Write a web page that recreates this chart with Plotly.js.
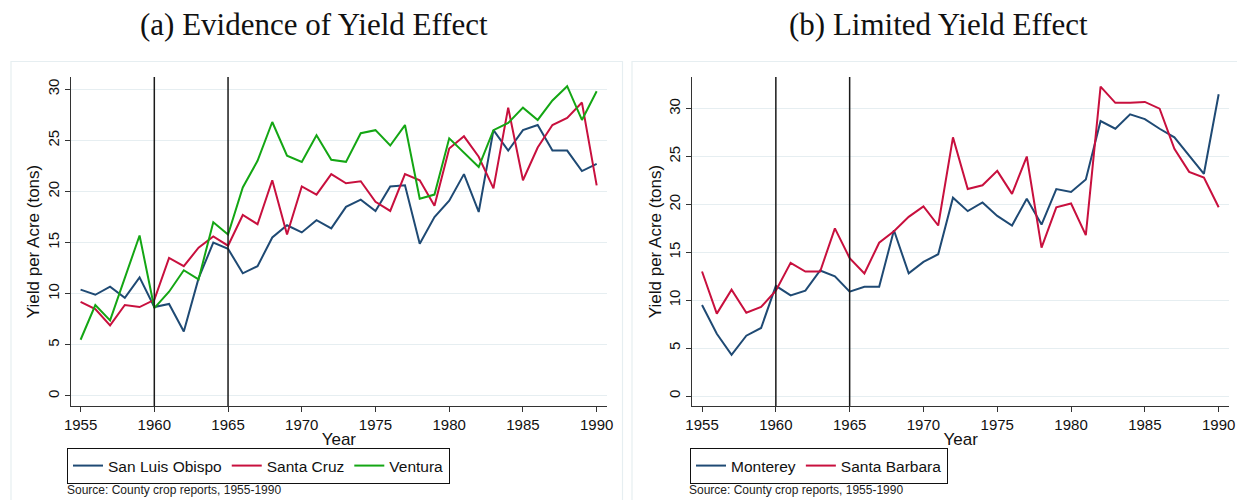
<!DOCTYPE html>
<html>
<head>
<meta charset="utf-8">
<script src="https://cdn.plot.ly/plotly-3.0.1.min.js"></script>
<style>
  html, body { margin: 0; padding: 0; background: #ffffff; }
  #chart { width: 1237px; height: 500px; }
</style>
</head>
<body>
<div id="chart"></div>
<script>
// ---- Data ----
const years = [1955, 1956, 1957, 1958, 1959, 1960, 1961, 1962, 1963, 1964,
               1965, 1966, 1967, 1968, 1969, 1970, 1971, 1972, 1973, 1974,
               1975, 1976, 1977, 1978, 1979, 1980, 1981, 1982, 1983, 1984,
               1985, 1986, 1987, 1988, 1989, 1990];

const sanLuisObispo = [10.4, 9.9, 10.7, 9.6, 11.6, 8.7, 9.0, 6.3, 11.5, 15.0,
                       14.4, 12.0, 12.7, 15.5, 16.7, 16.0, 17.2, 16.4, 18.5, 19.2,
                       18.1, 20.5, 20.6, 14.9, 17.5, 19.1, 21.7, 18.0, 26.0, 24.0,
                       26.0, 26.5, 24.0, 24.0, 22.0, 22.7];
const santaCruz = [9.2, 8.5, 6.9, 8.9, 8.7, 9.4, 13.5, 12.7, 14.5, 15.6,
                   14.7, 17.7, 16.8, 21.1, 15.8, 20.5, 19.7, 21.7, 20.8, 21.0,
                   19.0, 18.1, 21.7, 21.1, 18.6, 24.2, 25.4, 23.4, 20.3, 28.2,
                   21.1, 24.3, 26.5, 27.2, 28.7, 20.6];
const ventura = [5.5, 8.9, 7.4, 11.6, 15.7, 8.6, 10.2, 12.3, 11.4, 17.0,
                 15.8, 20.4, 23.0, 26.8, 23.5, 22.9, 25.5, 23.1, 22.9, 25.7,
                 26.0, 24.5, 26.5, 19.3, 19.7, 25.2, 23.8, 22.4, 26.0, 26.7,
                 28.2, 27.0, 28.9, 30.3, 27.0, 29.8];

const monterey = [9.5, 6.5, 4.3, 6.3, 7.1, 11.5, 10.5, 11.0, 13.1, 12.5,
                  10.9, 11.4, 11.4, 17.3, 12.8, 14.0, 14.8, 20.7, 19.3, 20.2,
                  18.8, 17.8, 20.6, 17.9, 21.6, 21.3, 22.6, 28.7, 27.9, 29.4,
                  28.9, 27.9, 27.0, 25.1, 23.2, 31.5];
const santaBarbara = [13.0, 8.6, 11.1, 8.7, 9.3, 11.0, 13.9, 13.0, 13.0, 17.5,
                      14.4, 12.8, 16.0, 17.2, 18.7, 19.8, 17.8, 27.0, 21.6, 22.0,
                      23.5, 21.1, 25.0, 15.5, 19.7, 20.1, 16.8, 32.3, 30.6, 30.6,
                      30.7, 30.0, 25.8, 23.4, 22.8, 19.7];

const eventYears = [1960, 1965];
const xTicks = [1955, 1960, 1965, 1970, 1975, 1980, 1985, 1990];
const yTicks = [0, 5, 10, 15, 20, 25, 30];
const panelTitles = ['(a) Evidence of Yield Effect', '(b) Limited Yield Effect'];
const sourceNote = 'Source: County crop reports, 1955-1990';
const yTitle = 'Yield per Acre (tons)';
const xTitle = 'Year';

// ---- Styling ----
const BLUE = '#1f4a74';
const RED = '#c8103e';
const GREEN = '#14a614';
const SANS = 'Liberation Sans, Arial, sans-serif';
const SERIF = 'Liberation Serif, Times New Roman, serif';
const W = 1237, H = 500;
const px = v => v / W;
const py = v => 1 - v / H;

function line(x, y, name, color, xa, ya, legend) {
  return {
    type: 'scatter', mode: 'lines', x: x, y: y, name: name,
    xaxis: xa, yaxis: ya, legend: legend,
    line: { color: color, width: 2 },
    hoverinfo: 'x+y+name'
  };
}

const traces = [
  line(years, sanLuisObispo, 'San Luis Obispo', BLUE, 'x', 'y', 'legend'),
  line(years, santaCruz, 'Santa Cruz', RED, 'x', 'y', 'legend'),
  line(years, ventura, 'Ventura', GREEN, 'x', 'y', 'legend'),
  line(years, monterey, 'Monterey', BLUE, 'x2', 'y2', 'legend2'),
  line(years, santaBarbara, 'Santa Barbara', RED, 'x2', 'y2', 'legend2')
];

function xAxis(domain, range, anchor) {
  return {
    domain: domain, range: range, anchor: anchor,
    tickmode: 'array', tickvals: xTicks, ticktext: xTicks.map(String),
    ticks: 'outside', ticklen: 5, tickwidth: 1, tickcolor: '#333',
    showline: true, linecolor: '#333', linewidth: 1.2,
    showgrid: false, zeroline: false,
    tickfont: { family: SANS, size: 15, color: '#111' },
    title: { text: xTitle, standoff: 0, font: { family: SANS, size: 17, color: '#111' } }
  };
}
function yAxis(domain, range, anchor) {
  return {
    domain: domain, range: range, anchor: anchor,
    tickmode: 'array', tickvals: yTicks, ticktext: yTicks.map(String),
    ticks: 'outside', ticklen: 5, tickwidth: 1, tickcolor: '#333',
    tickangle: -90,
    showline: true, linecolor: '#333', linewidth: 1.2,
    showgrid: true, gridcolor: '#e6eef1', gridwidth: 1,
    zeroline: false,
    tickfont: { family: SANS, size: 15, color: '#111' },
    title: { text: yTitle, standoff: 0, font: { family: SANS, size: 17, color: '#111' } }
  };
}

const plotTop = 77, plotBottom = 406;
const yDom = [py(plotBottom), py(plotTop)];

const shapes = [];
// panel frames
shapes.push({ type: 'rect', xref: 'paper', yref: 'paper', x0: px(11), x1: px(622.5), y0: -0.05, y1: py(61.5),
  line: { color: '#e6eef1', width: 1.2 }, fillcolor: 'rgba(0,0,0,0)', layer: 'below' });
shapes.push({ type: 'rect', xref: 'paper', yref: 'paper', x0: px(632), x1: 1.05, y0: -0.05, y1: py(61.5),
  line: { color: '#e6eef1', width: 1.2 }, fillcolor: 'rgba(0,0,0,0)', layer: 'below' });
// event lines
[['x', 'y domain'], ['x2', 'y2 domain']].forEach(([xr, yr]) => {
  eventYears.forEach(yr0 => {
    shapes.push({ type: 'line', xref: xr, yref: yr, x0: yr0, x1: yr0, y0: 0, y1: 1,
      line: { color: '#1a1a1a', width: 1.5 } });
  });
});

const annotations = [
  { text: panelTitles[0], xref: 'paper', yref: 'paper', x: px(314), y: py(24), showarrow: false,
    xanchor: 'center', yanchor: 'middle', font: { family: SERIF, size: 31, color: '#111' } },
  { text: panelTitles[1], xref: 'paper', yref: 'paper', x: px(938), y: py(24), showarrow: false,
    xanchor: 'center', yanchor: 'middle', font: { family: SERIF, size: 31, color: '#111' } },
  { text: sourceNote, xref: 'paper', yref: 'paper', x: px(65), y: py(490), showarrow: false,
    xanchor: 'left', yanchor: 'middle', font: { family: SANS, size: 12, color: '#222' } },
  { text: sourceNote, xref: 'paper', yref: 'paper', x: px(687), y: py(490), showarrow: false,
    xanchor: 'left', yanchor: 'middle', font: { family: SANS, size: 12, color: '#222' } }
];

const legendStyle = {
  orientation: 'h', xanchor: 'left', yanchor: 'top',
  bgcolor: '#ffffff', bordercolor: '#111', borderwidth: 1,
  font: { family: SANS, size: 15.5, color: '#111' },
  itemclick: false, itemdoubleclick: false
};

const layout = {
  width: W, height: H,
  margin: { l: 0, r: 0, t: 0, b: 0 },
  paper_bgcolor: '#ffffff', plot_bgcolor: '#ffffff',
  showlegend: true,
  xaxis: xAxis([px(71), px(606.7)], [1954.35, 1990.68], 'y'),
  yaxis: yAxis(yDom, [-0.98, 31.2], 'x'),
  xaxis2: xAxis([px(692.3), px(1229)], [1954.34, 1990.70], 'y2'),
  yaxis2: yAxis(yDom, [-1.04, 33.3], 'x2'),
  legend: Object.assign({}, legendStyle, { x: px(67), y: py(448) }),
  legend2: Object.assign({}, legendStyle, { x: px(690), y: py(448) }),
  shapes: shapes,
  annotations: annotations
};

Plotly.newPlot('chart', traces, layout, { displayModeBar: false, staticPlot: true });
</script>
</body>
</html>
